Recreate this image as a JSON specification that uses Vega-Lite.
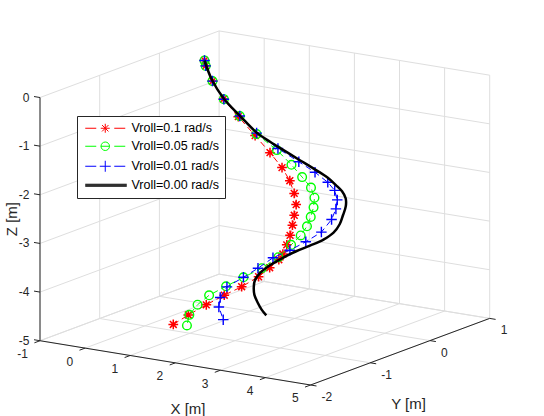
{
"$schema": "https://vega.github.io/schema/vega-lite/v6.json",
"width": 544, "height": 416, "padding": 0, "autosize": {"type": "none"},
"background": "white",
"config": {"view": {"stroke": null}},
"datasets": {
"grid": [
{"X1":-1,"Y1":1,"Z1":-5,"X2":-1,"Y2":1,"Z2":0},{"X1":0,"Y1":1,"Z1":-5,"X2":0,"Y2":1,"Z2":0},{"X1":1,"Y1":1,"Z1":-5,"X2":1,"Y2":1,"Z2":0},{"X1":2,"Y1":1,"Z1":-5,"X2":2,"Y2":1,"Z2":0},{"X1":3,"Y1":1,"Z1":-5,"X2":3,"Y2":1,"Z2":0},{"X1":4,"Y1":1,"Z1":-5,"X2":4,"Y2":1,"Z2":0},{"X1":5,"Y1":1,"Z1":-5,"X2":5,"Y2":1,"Z2":0},
{"X1":-1,"Y1":1,"Z1":-5,"X2":5,"Y2":1,"Z2":-5},{"X1":-1,"Y1":1,"Z1":-4,"X2":5,"Y2":1,"Z2":-4},{"X1":-1,"Y1":1,"Z1":-3,"X2":5,"Y2":1,"Z2":-3},{"X1":-1,"Y1":1,"Z1":-2,"X2":5,"Y2":1,"Z2":-2},{"X1":-1,"Y1":1,"Z1":-1,"X2":5,"Y2":1,"Z2":-1},{"X1":-1,"Y1":1,"Z1":0,"X2":5,"Y2":1,"Z2":0},
{"X1":-1,"Y1":-2,"Z1":-5,"X2":-1,"Y2":-2,"Z2":0},{"X1":-1,"Y1":-1,"Z1":-5,"X2":-1,"Y2":-1,"Z2":0},{"X1":-1,"Y1":0,"Z1":-5,"X2":-1,"Y2":0,"Z2":0},
{"X1":-1,"Y1":-2,"Z1":-5,"X2":-1,"Y2":1,"Z2":-5},{"X1":-1,"Y1":-2,"Z1":-4,"X2":-1,"Y2":1,"Z2":-4},{"X1":-1,"Y1":-2,"Z1":-3,"X2":-1,"Y2":1,"Z2":-3},{"X1":-1,"Y1":-2,"Z1":-2,"X2":-1,"Y2":1,"Z2":-2},{"X1":-1,"Y1":-2,"Z1":-1,"X2":-1,"Y2":1,"Z2":-1},{"X1":-1,"Y1":-2,"Z1":0,"X2":-1,"Y2":1,"Z2":0},
{"X1":-1,"Y1":-2,"Z1":-5,"X2":-1,"Y2":1,"Z2":-5},{"X1":0,"Y1":-2,"Z1":-5,"X2":0,"Y2":1,"Z2":-5},{"X1":1,"Y1":-2,"Z1":-5,"X2":1,"Y2":1,"Z2":-5},{"X1":2,"Y1":-2,"Z1":-5,"X2":2,"Y2":1,"Z2":-5},{"X1":3,"Y1":-2,"Z1":-5,"X2":3,"Y2":1,"Z2":-5},{"X1":4,"Y1":-2,"Z1":-5,"X2":4,"Y2":1,"Z2":-5},{"X1":5,"Y1":-2,"Z1":-5,"X2":5,"Y2":1,"Z2":-5},
{"X1":-1,"Y1":-2,"Z1":-5,"X2":5,"Y2":-2,"Z2":-5},{"X1":-1,"Y1":-1,"Z1":-5,"X2":5,"Y2":-1,"Z2":-5},{"X1":-1,"Y1":0,"Z1":-5,"X2":5,"Y2":0,"Z2":-5},{"X1":-1,"Y1":1,"Z1":-5,"X2":5,"Y2":1,"Z2":-5}
],
"axes": [
{"X1":-1,"Y1":-2,"Z1":-5,"X2":-1,"Y2":-2,"Z2":0},
{"X1":-1,"Y1":-2,"Z1":-5,"X2":5,"Y2":-2,"Z2":-5},
{"X1":5,"Y1":-2,"Z1":-5,"X2":5,"Y2":1,"Z2":-5}
],
"ticks": [
{"a":"z","X":-1,"Y":-2,"Z":0,"t":"0"},{"a":"z","X":-1,"Y":-2,"Z":-1,"t":"-1"},{"a":"z","X":-1,"Y":-2,"Z":-2,"t":"-2"},{"a":"z","X":-1,"Y":-2,"Z":-3,"t":"-3"},{"a":"z","X":-1,"Y":-2,"Z":-4,"t":"-4"},{"a":"z","X":-1,"Y":-2,"Z":-5,"t":"-5"},
{"a":"x","X":-1,"Y":-2,"Z":-5,"t":"-1"},{"a":"x","X":0,"Y":-2,"Z":-5,"t":"0"},{"a":"x","X":1,"Y":-2,"Z":-5,"t":"1"},{"a":"x","X":2,"Y":-2,"Z":-5,"t":"2"},{"a":"x","X":3,"Y":-2,"Z":-5,"t":"3"},{"a":"x","X":4,"Y":-2,"Z":-5,"t":"4"},{"a":"x","X":5,"Y":-2,"Z":-5,"t":"5"},
{"a":"y","X":5,"Y":-2,"Z":-5,"t":"-2"},{"a":"y","X":5,"Y":-1,"Z":-5,"t":"-1"},{"a":"y","X":5,"Y":0,"Z":-5,"t":"0"},{"a":"y","X":5,"Y":1,"Z":-5,"t":"1"}
],
"titles": [
{"a":"x","X":2,"Y":-2,"Z":-5,"t":"X [m]"},
{"a":"y","X":5,"Y":-0.5,"Z":-5,"t":"Y [m]"},
{"a":"z","X":-1,"Y":-2,"Z":-2.5,"t":"Z [m]"}
],
"curves": [
{"s":"r","i":0,"X":0,"Y":0,"Z":0},{"s":"r","i":1,"X":0.04,"Y":-0.01,"Z":-0.1},{"s":"r","i":2,"X":0.19,"Y":-0.01,"Z":-0.39},{"s":"r","i":3,"X":0.42,"Y":0,"Z":-0.73},{"s":"r","i":4,"X":0.71,"Y":0.03,"Z":-1.06},{"s":"r","i":5,"X":1.03,"Y":0.07,"Z":-1.42},{"s":"r","i":6,"X":1.32,"Y":0.1,"Z":-1.74},{"s":"r","i":7,"X":1.56,"Y":0.12,"Z":-2.02},{"s":"r","i":8,"X":1.72,"Y":0.13,"Z":-2.27},{"s":"r","i":9,"X":1.83,"Y":0.12,"Z":-2.51},{"s":"r","i":10,"X":1.9,"Y":0.1,"Z":-2.72},{"s":"r","i":11,"X":1.91,"Y":0.06,"Z":-2.92},{"s":"r","i":12,"X":1.91,"Y":0.03,"Z":-3.11},{"s":"r","i":13,"X":1.91,"Y":-0.01,"Z":-3.3},{"s":"r","i":14,"X":1.89,"Y":-0.05,"Z":-3.48},{"s":"r","i":15,"X":1.87,"Y":-0.1,"Z":-3.65},{"s":"r","i":16,"X":1.82,"Y":-0.13,"Z":-3.76},{"s":"r","i":17,"X":1.71,"Y":-0.2,"Z":-3.91},{"s":"r","i":18,"X":1.57,"Y":-0.28,"Z":-4.08},{"s":"r","i":19,"X":1.34,"Y":-0.39,"Z":-4.27},{"s":"r","i":20,"X":1.1,"Y":-0.5,"Z":-4.43},{"s":"r","i":21,"X":0.86,"Y":-0.62,"Z":-4.61},{"s":"r","i":22,"X":0.62,"Y":-0.74,"Z":-4.8},{"s":"r","i":23,"X":0.42,"Y":-0.84,"Z":-4.98},
{"s":"g","i":0,"X":0,"Y":0,"Z":0},{"s":"g","i":1,"X":0.04,"Y":-0.01,"Z":-0.1},{"s":"g","i":2,"X":0.19,"Y":-0.01,"Z":-0.39},{"s":"g","i":3,"X":0.43,"Y":0,"Z":-0.73},{"s":"g","i":4,"X":0.73,"Y":0.04,"Z":-1.05},{"s":"g","i":5,"X":1.05,"Y":0.08,"Z":-1.39},{"s":"g","i":6,"X":1.42,"Y":0.14,"Z":-1.69},{"s":"g","i":7,"X":1.69,"Y":0.18,"Z":-1.97},{"s":"g","i":8,"X":1.9,"Y":0.2,"Z":-2.2},{"s":"g","i":9,"X":2.07,"Y":0.22,"Z":-2.4},{"s":"g","i":10,"X":2.16,"Y":0.21,"Z":-2.59},{"s":"g","i":11,"X":2.18,"Y":0.18,"Z":-2.77},{"s":"g","i":12,"X":2.17,"Y":0.14,"Z":-2.95},{"s":"g","i":13,"X":2.14,"Y":0.1,"Z":-3.13},{"s":"g","i":14,"X":2.08,"Y":0.04,"Z":-3.3},{"s":"g","i":15,"X":1.96,"Y":-0.03,"Z":-3.48},{"s":"g","i":16,"X":1.81,"Y":-0.13,"Z":-3.71},{"s":"g","i":17,"X":1.59,"Y":-0.24,"Z":-3.92},{"s":"g","i":18,"X":1.34,"Y":-0.36,"Z":-4.09},{"s":"g","i":19,"X":1.1,"Y":-0.47,"Z":-4.26},{"s":"g","i":20,"X":0.87,"Y":-0.58,"Z":-4.43},{"s":"g","i":21,"X":0.72,"Y":-0.66,"Z":-4.61},{"s":"g","i":22,"X":0.63,"Y":-0.73,"Z":-4.8},{"s":"g","i":23,"X":0.63,"Y":-0.77,"Z":-5},
{"s":"b","i":0,"X":0,"Y":0,"Z":0},{"s":"b","i":1,"X":0.04,"Y":-0.01,"Z":-0.1},{"s":"b","i":2,"X":0.19,"Y":-0.01,"Z":-0.39},{"s":"b","i":3,"X":0.43,"Y":0,"Z":-0.73},{"s":"b","i":4,"X":0.73,"Y":0.04,"Z":-1.05},{"s":"b","i":5,"X":1.05,"Y":0.08,"Z":-1.37},{"s":"b","i":6,"X":1.43,"Y":0.15,"Z":-1.66},{"s":"b","i":7,"X":1.8,"Y":0.22,"Z":-1.91},{"s":"b","i":8,"X":2.08,"Y":0.28,"Z":-2.11},{"s":"b","i":9,"X":2.31,"Y":0.32,"Z":-2.3},{"s":"b","i":10,"X":2.45,"Y":0.33,"Z":-2.45},{"s":"b","i":11,"X":2.52,"Y":0.32,"Z":-2.63},{"s":"b","i":12,"X":2.53,"Y":0.29,"Z":-2.8},{"s":"b","i":13,"X":2.5,"Y":0.24,"Z":-3},{"s":"b","i":14,"X":2.38,"Y":0.16,"Z":-3.24},{"s":"b","i":15,"X":2.18,"Y":0.05,"Z":-3.42},{"s":"b","i":16,"X":1.96,"Y":-0.05,"Z":-3.58},{"s":"b","i":17,"X":1.73,"Y":-0.16,"Z":-3.72},{"s":"b","i":18,"X":1.53,"Y":-0.26,"Z":-3.92},{"s":"b","i":19,"X":1.34,"Y":-0.36,"Z":-4.09},{"s":"b","i":20,"X":1.12,"Y":-0.47,"Z":-4.27},{"s":"b","i":21,"X":1.05,"Y":-0.53,"Z":-4.47},{"s":"b","i":22,"X":1.06,"Y":-0.56,"Z":-4.65},{"s":"b","i":23,"X":1.17,"Y":-0.57,"Z":-4.89},
{"s":"k","i":0,"X":0,"Y":0,"Z":0},{"s":"k","i":1,"X":0.18,"Y":-0.01,"Z":-0.37},{"s":"k","i":2,"X":0.43,"Y":0,"Z":-0.72},{"s":"k","i":3,"X":0.74,"Y":0.04,"Z":-1.05},{"s":"k","i":4,"X":1.05,"Y":0.08,"Z":-1.36},{"s":"k","i":5,"X":1.29,"Y":0.13,"Z":-1.54},{"s":"k","i":6,"X":1.55,"Y":0.18,"Z":-1.71},{"s":"k","i":7,"X":1.81,"Y":0.23,"Z":-1.88},{"s":"k","i":8,"X":2.05,"Y":0.28,"Z":-2.04},{"s":"k","i":9,"X":2.29,"Y":0.33,"Z":-2.21},{"s":"k","i":10,"X":2.45,"Y":0.35,"Z":-2.35},{"s":"k","i":11,"X":2.56,"Y":0.37,"Z":-2.47},{"s":"k","i":12,"X":2.64,"Y":0.37,"Z":-2.6},{"s":"k","i":13,"X":2.67,"Y":0.35,"Z":-2.75},{"s":"k","i":14,"X":2.66,"Y":0.31,"Z":-2.92},{"s":"k","i":15,"X":2.64,"Y":0.27,"Z":-3.09},{"s":"k","i":16,"X":2.57,"Y":0.22,"Z":-3.25},{"s":"k","i":17,"X":2.44,"Y":0.15,"Z":-3.38},{"s":"k","i":18,"X":2.26,"Y":0.06,"Z":-3.49},{"s":"k","i":19,"X":2.06,"Y":-0.02,"Z":-3.6},{"s":"k","i":20,"X":1.88,"Y":-0.1,"Z":-3.72},{"s":"k","i":21,"X":1.71,"Y":-0.19,"Z":-3.86},{"s":"k","i":22,"X":1.58,"Y":-0.26,"Z":-4.01},{"s":"k","i":23,"X":1.53,"Y":-0.31,"Z":-4.14},{"s":"k","i":24,"X":1.53,"Y":-0.33,"Z":-4.27},{"s":"k","i":25,"X":1.57,"Y":-0.35,"Z":-4.42},{"s":"k","i":26,"X":1.65,"Y":-0.35,"Z":-4.58},{"s":"k","i":27,"X":1.73,"Y":-0.35,"Z":-4.7},{"s":"k","i":28,"X":1.82,"Y":-0.34,"Z":-4.81}
]
},
"encoding": {
"x": {"field": "u", "type": "quantitative", "scale": {"domain": [-4.2044, 6.9799], "nice": false, "zero": false}, "axis": null},
"y": {"field": "v", "type": "quantitative", "scale": {"domain": [-7.3088, 1.2438], "nice": false, "zero": false}, "axis": null}
},
"layer": [
{"data": {"name": "grid"},
 "transform": [
  {"calculate": "0.9272*datum.X1+1.2274*datum.Y1", "as": "u"},
  {"calculate": "-0.1517*datum.X1+0.4564*datum.Y1+datum.Z1", "as": "v"},
  {"calculate": "0.9272*datum.X2+1.2274*datum.Y2", "as": "u2"},
  {"calculate": "-0.1517*datum.X2+0.4564*datum.Y2+datum.Z2", "as": "v2"}],
 "mark": {"type": "rule", "color": "#dedede", "strokeWidth": 1},
 "encoding": {"x2": {"field": "u2"}, "y2": {"field": "v2"}}},
{"data": {"name": "axes"},
 "transform": [
  {"calculate": "0.9272*datum.X1+1.2274*datum.Y1", "as": "u"},
  {"calculate": "-0.1517*datum.X1+0.4564*datum.Y1+datum.Z1", "as": "v"},
  {"calculate": "0.9272*datum.X2+1.2274*datum.Y2", "as": "u2"},
  {"calculate": "-0.1517*datum.X2+0.4564*datum.Y2+datum.Z2", "as": "v2"}],
 "mark": {"type": "rule", "color": "#262626", "strokeWidth": 1},
 "encoding": {"x2": {"field": "u2"}, "y2": {"field": "v2"}}},
{"data": {"name": "ticks"},
 "transform": [{"filter": "datum.a==='z'"},
  {"calculate": "0.9272*datum.X+1.2274*datum.Y", "as": "u"},
  {"calculate": "-0.1517*datum.X+0.4564*datum.Y+datum.Z", "as": "v"}],
 "layer": [
  {"mark": {"type": "rule", "color": "#262626", "x2Offset": -6, "y2Offset": -1},
   "encoding": {"x2": {"field": "u"}, "y2": {"field": "v"}}},
  {"mark": {"type": "text", "font": "Liberation Sans", "fontSize": 12, "color": "#262626", "align": "right", "baseline": "middle", "dx": -10.5},
   "encoding": {"text": {"field": "t"}}}]},
{"data": {"name": "ticks"},
 "transform": [{"filter": "datum.a==='x'"},
  {"calculate": "0.9272*datum.X+1.2274*datum.Y", "as": "u"},
  {"calculate": "-0.1517*datum.X+0.4564*datum.Y+datum.Z", "as": "v"}],
 "layer": [
  {"mark": {"type": "rule", "color": "#262626", "x2Offset": -5.6, "y2Offset": 2.1},
   "encoding": {"x2": {"field": "u"}, "y2": {"field": "v"}}},
  {"mark": {"type": "text", "font": "Liberation Sans", "fontSize": 12, "color": "#262626", "align": "right", "baseline": "middle", "dx": -12, "dy": 13.5},
   "encoding": {"text": {"field": "t"}}}]},
{"data": {"name": "ticks"},
 "transform": [{"filter": "datum.a==='y'"},
  {"calculate": "0.9272*datum.X+1.2274*datum.Y", "as": "u"},
  {"calculate": "-0.1517*datum.X+0.4564*datum.Y+datum.Z", "as": "v"}],
 "layer": [
  {"mark": {"type": "rule", "color": "#262626", "x2Offset": 5.9, "y2Offset": 1},
   "encoding": {"x2": {"field": "u"}, "y2": {"field": "v"}}},
  {"mark": {"type": "text", "font": "Liberation Sans", "fontSize": 12, "color": "#262626", "align": "left", "baseline": "middle", "dx": 11, "dy": 12},
   "encoding": {"text": {"field": "t"}}}]},
{"data": {"name": "titles"},
 "transform": [{"filter": "datum.a==='x'"},
  {"calculate": "0.9272*datum.X+1.2274*datum.Y", "as": "u"},
  {"calculate": "-0.1517*datum.X+0.4564*datum.Y+datum.Z", "as": "v"}],
 "mark": {"type": "text", "font": "Liberation Sans", "fontSize": 15, "color": "#262626", "align": "center", "baseline": "middle", "dx": 12.7, "dy": 46},
 "encoding": {"text": {"field": "t"}}},
{"data": {"name": "titles"},
 "transform": [{"filter": "datum.a==='y'"},
  {"calculate": "0.9272*datum.X+1.2274*datum.Y", "as": "u"},
  {"calculate": "-0.1517*datum.X+0.4564*datum.Y+datum.Z", "as": "v"}],
 "mark": {"type": "text", "font": "Liberation Sans", "fontSize": 15, "color": "#262626", "align": "center", "baseline": "middle", "dx": 8.4, "dy": 52.3},
 "encoding": {"text": {"field": "t"}}},
{"data": {"name": "titles"},
 "transform": [{"filter": "datum.a==='z'"},
  {"calculate": "0.9272*datum.X+1.2274*datum.Y", "as": "u"},
  {"calculate": "-0.1517*datum.X+0.4564*datum.Y+datum.Z", "as": "v"}],
 "mark": {"type": "text", "font": "Liberation Sans", "fontSize": 15, "color": "#262626", "align": "center", "baseline": "middle", "angle": 270, "dy": -28},
 "encoding": {"text": {"field": "t"}}},
{"data": {"name": "curves"},
 "transform": [{"filter": "datum.s==='r'"},
  {"calculate": "0.9272*datum.X+1.2274*datum.Y", "as": "u"},
  {"calculate": "-0.1517*datum.X+0.4564*datum.Y+datum.Z", "as": "v"}],
 "layer": [
  {"mark": {"type": "line", "color": "#ff0000", "strokeWidth": 1, "strokeDash": [6, 4]},
   "encoding": {"order": {"field": "i", "type": "quantitative"}}},
  {"mark": {"type": "point", "shape": "M-1,0L1,0M0,-1L0,1M-0.7,-0.7L0.7,0.7M-0.7,0.7L0.7,-0.7", "filled": false, "color": "#ff0000", "size": 95, "strokeWidth": 1.5, "opacity": 1}}]},
{"data": {"name": "curves"},
 "transform": [{"filter": "datum.s==='g'"},
  {"calculate": "0.9272*datum.X+1.2274*datum.Y", "as": "u"},
  {"calculate": "-0.1517*datum.X+0.4564*datum.Y+datum.Z", "as": "v"}],
 "layer": [
  {"mark": {"type": "line", "color": "#00ff00", "strokeWidth": 1, "strokeDash": [6, 4]},
   "encoding": {"order": {"field": "i", "type": "quantitative"}}},
  {"mark": {"type": "point", "shape": "circle", "filled": false, "color": "#00ff00", "size": 75, "strokeWidth": 1.4, "opacity": 1}}]},
{"data": {"name": "curves"},
 "transform": [{"filter": "datum.s==='b'"},
  {"calculate": "0.9272*datum.X+1.2274*datum.Y", "as": "u"},
  {"calculate": "-0.1517*datum.X+0.4564*datum.Y+datum.Z", "as": "v"}],
 "layer": [
  {"mark": {"type": "line", "color": "#0000ff", "strokeWidth": 1, "strokeDash": [6, 4]},
   "encoding": {"order": {"field": "i", "type": "quantitative"}}},
  {"mark": {"type": "point", "shape": "M-1,0L1,0M0,-1L0,1", "filled": false, "color": "#0000ff", "size": 110, "strokeWidth": 1.4, "opacity": 1}}]},
{"data": {"name": "curves"},
 "transform": [{"filter": "datum.s==='k'"},
  {"calculate": "0.9272*datum.X+1.2274*datum.Y", "as": "u"},
  {"calculate": "-0.1517*datum.X+0.4564*datum.Y+datum.Z", "as": "v"}],
 "mark": {"type": "line", "color": "#000000", "strokeWidth": 2.5, "interpolate": "catmull-rom"},
 "encoding": {"order": {"field": "i", "type": "quantitative"}}},
{"data": {"values": []},
 "mark": {"type": "point", "filled": false, "size": 100, "strokeWidth": 1, "opacity": 1},
 "encoding": {
  "color": {"field": "lab", "type": "nominal",
   "scale": {"domain": ["Vroll=0.1 rad/s", "Vroll=0.05 rad/s", "Vroll=0.01 rad/s", "Vroll=0.00 rad/s"], "range": ["#ff0000", "#00ff00", "#0000ff", "#000000"]},
   "legend": {"title": null, "orient": "none", "legendX": 77, "legendY": 116, "direction": "vertical", "padding": 6, "rowPadding": 5, "symbolSize": 100, "symbolStrokeWidth": 1, "symbolOffset": -4, "labelOffset": 40, "labelFont": "Liberation Sans", "labelFontSize": 12.5, "labelColor": "#000000", "labelLimit": 300, "strokeColor": "#262626", "fillColor": "#ffffff"}},
  "shape": {"field": "lab", "type": "nominal",
   "scale": {"domain": ["Vroll=0.1 rad/s", "Vroll=0.05 rad/s", "Vroll=0.01 rad/s", "Vroll=0.00 rad/s"], "range": [
    "M0,0L2.2,0M3.1,0L4.9,0M5.8,0L8,0M4,-0.9L4,0.9M3.36,-0.64L4.64,0.64M3.36,0.64L4.64,-0.64",
    "M0,0L2.2,0M3.1,0L4.9,0M5.8,0L8,0M4.85,0A0.85,0.85,0,1,1,3.15,0A0.85,0.85,0,1,1,4.85,0",
    "M0,0L2.2,0M2.9,0L5.1,0M5.8,0L8,0M4,-1.1L4,1.1",
    "M0,-0.2L8.3,-0.2M0,0L8.3,0M0,0.2L8.3,0.2"]},
   "legend": {"title": null, "orient": "none", "legendX": 77, "legendY": 116, "direction": "vertical", "padding": 6, "rowPadding": 5, "symbolSize": 100, "symbolStrokeWidth": 1, "symbolOffset": -4, "labelOffset": 40, "labelFont": "Liberation Sans", "labelFontSize": 12.5, "labelColor": "#000000", "labelLimit": 300, "strokeColor": "#262626", "fillColor": "#ffffff"}}
 }}
]
}
